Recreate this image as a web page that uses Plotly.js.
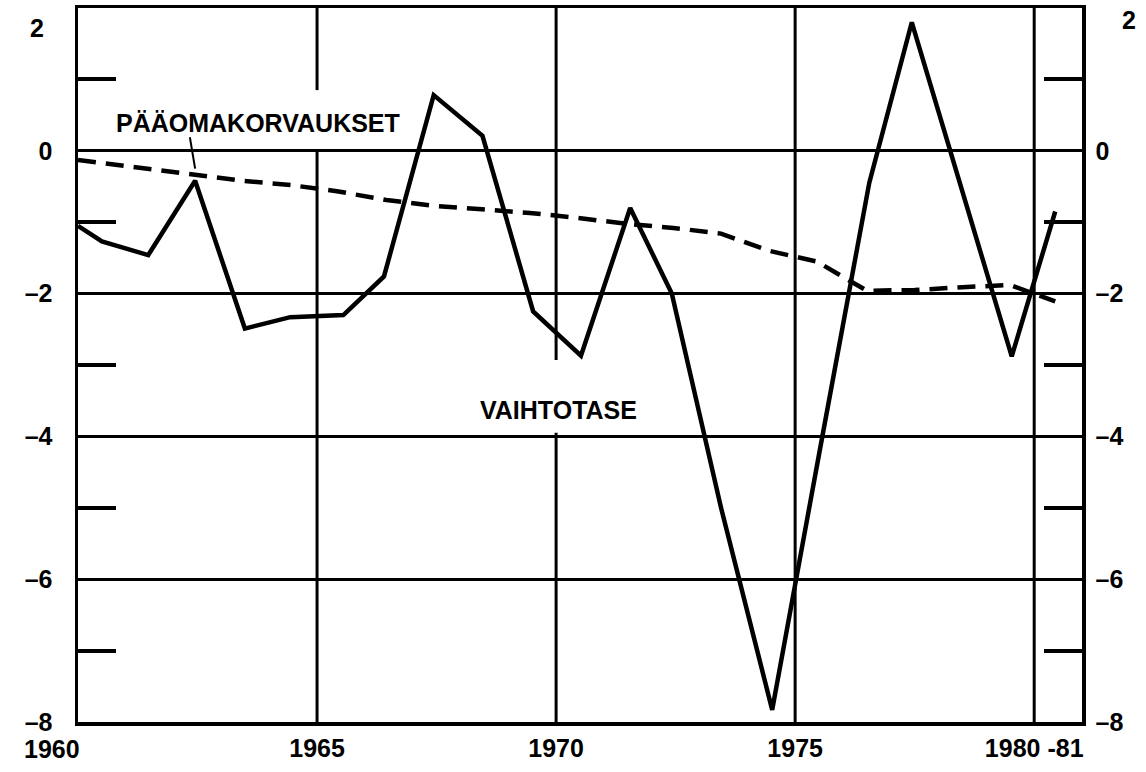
<!DOCTYPE html>
<html>
<head>
<meta charset="utf-8">
<script src="https://cdn.plot.ly/plotly-3.0.1.min.js"></script>
<style>html,body{margin:0;padding:0;background:#fff;}#chart{width:1146px;height:772px;}</style>
</head>
<body>
<div id="chart"></div>
<script>
// Current account (VAIHTOTASE), solid line
const vaihtotaseYears = [1960.0, 1960.5, 1961.47, 1962.45, 1963.49, 1964.44, 1965.55, 1966.4, 1967.44, 1968.46, 1969.52, 1970.52, 1971.55, 1972.42, 1973.45, 1974.52, 1975.5, 1976.55, 1977.44, 1978.45, 1979.53, 1980.44];
const vaihtotaseValues = [-1.05, -1.27, -1.46, -0.42, -2.49, -2.33, -2.30, -1.76, 0.78, 0.21, -2.25, -2.87, -0.80, -2.0, -5.0, -7.83, -4.25, -0.45, 1.8, -0.45, -2.88, -0.85];

// Capital adjustments (PÄÄOMAKORVAUKSET), dashed line
const paaomaYears = [1960.0, 1960.5, 1961.5, 1962.45, 1963.45, 1964.45, 1965.45, 1966.45, 1967.45, 1968.45, 1969.45, 1970.45, 1971.45, 1972.45, 1973.45, 1974.45, 1975.45, 1976.5, 1977.5, 1978.5, 1979.5, 1980.44];
const paaomaValues = [-0.13, -0.17, -0.25, -0.33, -0.42, -0.48, -0.57, -0.69, -0.77, -0.82, -0.87, -0.94, -1.02, -1.08, -1.16, -1.40, -1.55, -1.96, -1.95, -1.91, -1.88, -2.11];

// Axis ticks
const xTickVals = [1965, 1970, 1975, 1980];
const xTickText = ['1965', '1970', '1975', '1980 -81'];
const firstYearLabel = '1960';
const yTickVals = [-8, -6, -4, -2, 0];
const yTickText = ['\u20138', '\u20136', '\u20134', '\u20132', '0'];
const yTopLabel = '2';
const yMinorVals = [-7, -5, -3, -1, 1];
const seriesLabels = ['PÄÄOMAKORVAUKSET', 'VAIHTOTASE'];

const labelFont = {family: 'Liberation Sans, Arial, sans-serif', size: 25, color: '#000', weight: 'bold'};
const textFont = {family: 'Liberation Sans, Arial, sans-serif', size: 25, color: '#000', weight: 'bold'};

const traces = [
  {x: paaomaYears, y: paaomaValues, type: 'scatter', mode: 'lines',
   line: {color: '#000', width: 4.5, dash: '18px,10px'}, yaxis: 'y2', hoverinfo: 'skip'},
  {x: vaihtotaseYears, y: vaihtotaseValues, type: 'scatter', mode: 'lines',
   line: {color: '#000', width: 4.5}, hoverinfo: 'skip'}
];

const gridSegs = [
  [1965, -8, 0], [1965, 0.85, 2],
  [1970, -8, -3.95], [1970, -2.93, 2],
  [1975, -8, 2], [1980, -8, 2]
];
const shapes = gridSegs.map(s => ({type: 'line', xref: 'x', yref: 'y', x0: s[0], x1: s[0], y0: s[1], y1: s[2],
  line: {color: '#000', width: 3}, layer: 'below'}));
// leader line from label to dashed curve
shapes.push({type: 'line', xref: 'x', yref: 'y', x0: 1962.34, y0: 0.19, x1: 1962.45, y1: -0.25, line: {color: '#000', width: 2}});

const yAxisCommon = {
  range: [-8, 2], tickmode: 'array', tickvals: yTickVals, ticktext: yTickText,
  ticks: '', showline: true, linecolor: '#000', linewidth: 3.5, zeroline: false,
  tickfont: labelFont, fixedrange: true,
  minor: {tickmode: 'array', tickvals: yMinorVals, ticks: 'inside', ticklen: 38, tickwidth: 4, tickcolor: '#000', showgrid: false}
};

const layout = {
  width: 1146, height: 772,
  margin: {l: 78, r: 64, t: 8, b: 50},
  paper_bgcolor: '#fff', plot_bgcolor: '#fff',
  showlegend: false,
  xaxis: {
    range: [1960, 1981], tickmode: 'array', tickvals: xTickVals, ticktext: xTickText,
    ticks: '', showgrid: false, zeroline: false, showline: true, mirror: true,
    linecolor: '#000', linewidth: 3.5, tickfont: labelFont, fixedrange: true, ticklabelstandoff: 1
  },
  yaxis: Object.assign({}, yAxisCommon, {side: 'left', showgrid: true, gridcolor: '#000', gridwidth: 3, ticklabelstandoff: 17}),
  yaxis2: Object.assign({}, yAxisCommon, {side: 'right', overlaying: 'y', showgrid: false, ticklabelstandoff: 5}),
  shapes: shapes,
  annotations: [
    {text: firstYearLabel, xref: 'x', yref: 'paper', x: 1960, y: 0, xanchor: 'center', yanchor: 'top', xshift: -26, yshift: -11, showarrow: false, font: labelFont},
    {text: yTopLabel, xref: 'paper', yref: 'y', x: 0, y: 2, xanchor: 'right', yanchor: 'middle', xshift: -32, yshift: -20, showarrow: false, font: labelFont},
    {text: yTopLabel, xref: 'paper', yref: 'y', x: 1, y: 2, xanchor: 'left', yanchor: 'middle', xshift: 38, yshift: -12, showarrow: false, font: labelFont},
    {text: seriesLabels[0], xref: 'x', yref: 'y', x: 1963.77, y: 0.39, showarrow: false, font: textFont},
    {text: seriesLabels[1], xref: 'x', yref: 'y', x: 1970.04, y: -3.63, showarrow: false, font: textFont}
  ]
};

Plotly.newPlot('chart', traces, layout, {staticPlot: true, displayModeBar: false});
</script>
</body>
</html>
